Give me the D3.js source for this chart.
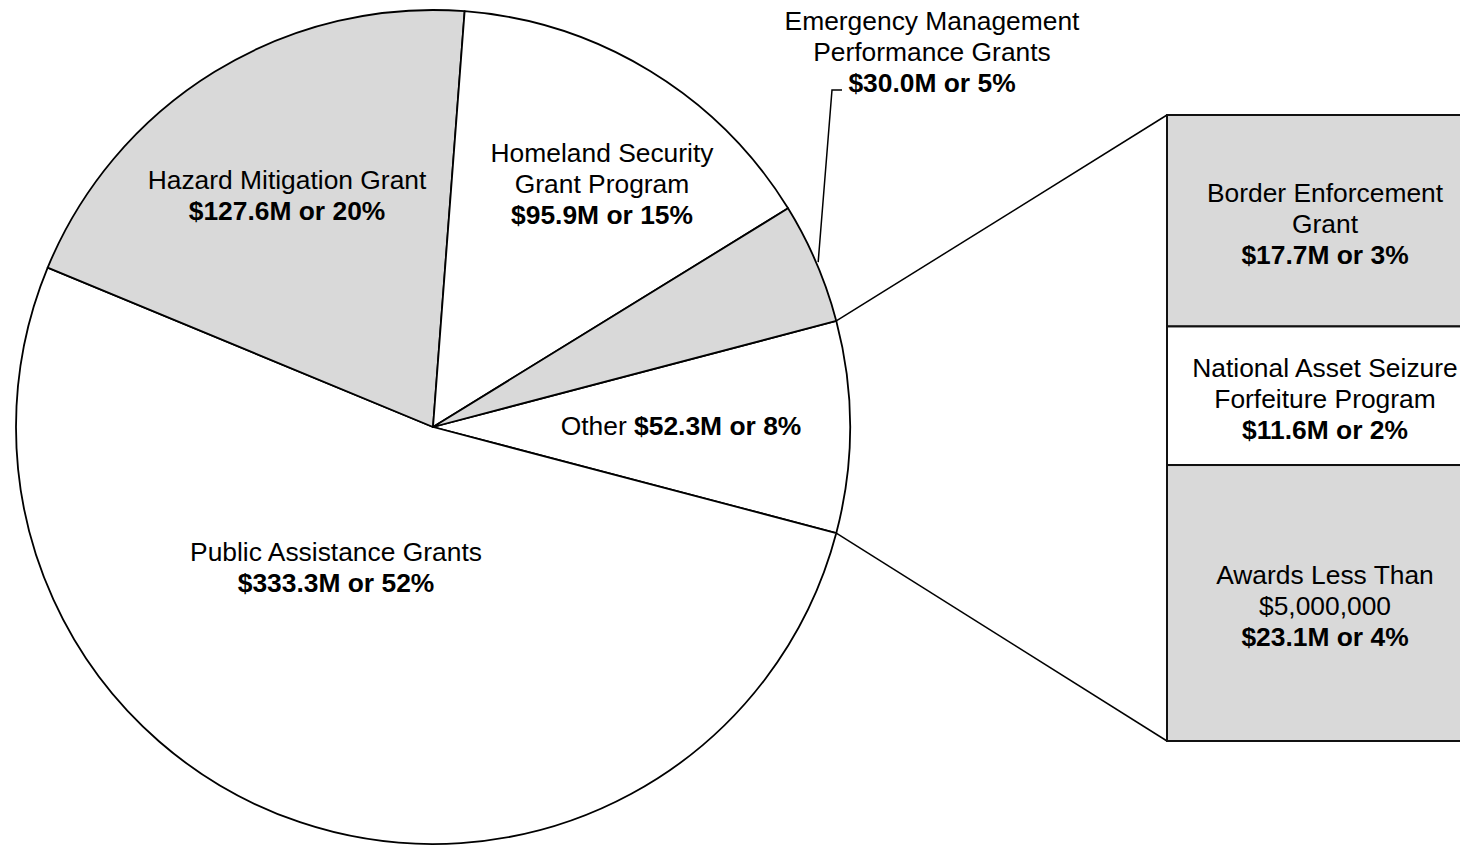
<!DOCTYPE html>
<html>
<head>
<meta charset="utf-8">
<script src="https://cdn.jsdelivr.net/npm/d3@7/dist/d3.min.js"></script>
<style>
  html, body { margin: 0; padding: 0; background: #fff; overflow: hidden; }
  svg { display: block; }
  text { font-family: "Liberation Sans", Arial, sans-serif; font-size: 26.4px; fill: #000; }
  .b { font-weight: bold; }
</style>
</head>
<body>
<svg id="chart" width="1460" height="845"></svg>
<script>
// Grant awards by program (millions of dollars)
const pieNames   = ["Other", "Public Assistance Grants", "Hazard Mitigation Grant",
                    "Homeland Security Grant Program", "Emergency Management Performance Grants"];
const pieValues  = [52.3, 333.3, 127.6, 95.9, 30.0];
const piePercent = [8, 52, 20, 15, 5];
const pieShaded  = [false, false, true, false, true];

// Breakdown of the "Other" slice
const otherNames   = ["Border Enforcement Grant", "National Asset Seizure Forfeiture Program",
                      "Awards Less Than $5,000,000"];
const otherValues  = [17.7, 11.6, 23.1];
const otherPercent = [3, 2, 4];
const otherShaded  = [true, false, true];

const fmt = (v, p) => `$${v.toFixed(1)}M or ${p}%`;

const svg = d3.select("#chart");
const cx = 433, cy = 427, R = 417;
const GREY = "#d9d9d9";

// Pie: "Other" centred on the 3 o'clock position, remaining slices clockwise
const total = d3.sum(pieValues);
const otherSweep = pieValues[0] / total * 2 * Math.PI;
const start = Math.PI / 2 - otherSweep / 2;
const pie = d3.pie().sort(null).startAngle(start).endAngle(start + 2 * Math.PI);
const arcs = pie(pieValues);
const arc = d3.arc().innerRadius(0).outerRadius(R);

const g = svg.append("g").attr("transform", `translate(${cx},${cy})`);
g.selectAll("path.slice").data(arcs).join("path")
  .attr("class", "slice")
  .attr("d", arc)
  .attr("fill", (d, i) => pieShaded[i] ? GREY : "#fff")
  .attr("stroke", "#000")
  .attr("stroke-width", 1.8)
  .attr("stroke-linejoin", "round");

const polar = (a, r) => [cx + r * Math.sin(a), cy - r * Math.cos(a)];

// Stacked bar for the "Other" breakdown
const barX = 1167, barW = 316, barTop = 115, barBottom = 741;
const y = d3.scaleLinear().domain([0, d3.sum(otherValues)]).range([barTop, barBottom]);
const cum = d3.cumsum([0, ...otherValues]);
const segs = otherValues.map((v, i) => ({ v, i, y0: y(cum[i]), y1: y(cum[i + 1]) }));

// Connector lines from the "Other" slice edges to the bar corners
const pA = polar(arcs[0].startAngle, R);
const pB = polar(arcs[0].endAngle, R);
svg.append("line").attr("x1", pA[0]).attr("y1", pA[1]).attr("x2", barX).attr("y2", y(0))
  .attr("stroke", "#000").attr("stroke-width", 1.5);
svg.append("line").attr("x1", pB[0]).attr("y1", pB[1]).attr("x2", barX).attr("y2", y(d3.sum(otherValues)))
  .attr("stroke", "#000").attr("stroke-width", 1.5);

svg.selectAll("rect.seg").data(segs).join("rect")
  .attr("class", "seg")
  .attr("x", barX).attr("width", barW)
  .attr("y", d => d.y0).attr("height", d => d.y1 - d.y0)
  .attr("fill", d => otherShaded[d.i] ? GREY : "#fff")
  .attr("stroke", "#111").attr("stroke-width", 2);

// Multi-line centred label: lines = [[text, bold], ...]
function label(x, yBase, lines, lh = 31) {
  const t = svg.append("text").attr("text-anchor", "middle");
  lines.forEach((ln, k) => {
    t.append("tspan").attr("x", x).attr("y", yBase + k * lh)
      .attr("class", ln[1] ? "b" : null).text(ln[0]);
  });
  return t;
}

// Slice labels
label(287, 189, [["Hazard Mitigation Grant", false], [fmt(pieValues[2], piePercent[2]), true]]);
label(602, 162, [["Homeland Security", false], ["Grant Program", false], [fmt(pieValues[3], piePercent[3]), true]]);
label(336, 561, [["Public Assistance Grants", false], [fmt(pieValues[1], piePercent[1]), true]]);
label(932, 30, [["Emergency Management", false], ["Performance Grants", false], [fmt(pieValues[4], piePercent[4]), true]]);

const other = svg.append("text").attr("text-anchor", "middle").attr("x", 681).attr("y", 435);
other.append("tspan").text("Other ");
other.append("tspan").attr("class", "b").text(fmt(pieValues[0], piePercent[0]));

// Leader line for the narrow Emergency Management slice
const emMid = (arcs[4].startAngle + arcs[4].endAngle) / 2;
const emEdge = polar(emMid, R + 2);
svg.append("polyline")
  .attr("points", [[842, 90], [832, 90], emEdge].map(p => p.join(",")).join(" "))
  .attr("fill", "none").attr("stroke", "#000").attr("stroke-width", 1.5);

// Bar segment labels
const barCx = barX + barW / 2;
const barLines = [
  [["Border Enforcement", false], ["Grant", false]],
  [["National Asset Seizure", false], ["Forfeiture Program", false]],
  [["Awards Less Than", false], ["$5,000,000", false]]
];
segs.forEach((s, i) => {
  const mid = (s.y0 + s.y1) / 2;
  label(barCx, mid - 19, [...barLines[i], [fmt(otherValues[i], otherPercent[i]), true]]);
});
</script>
</body>
</html>
